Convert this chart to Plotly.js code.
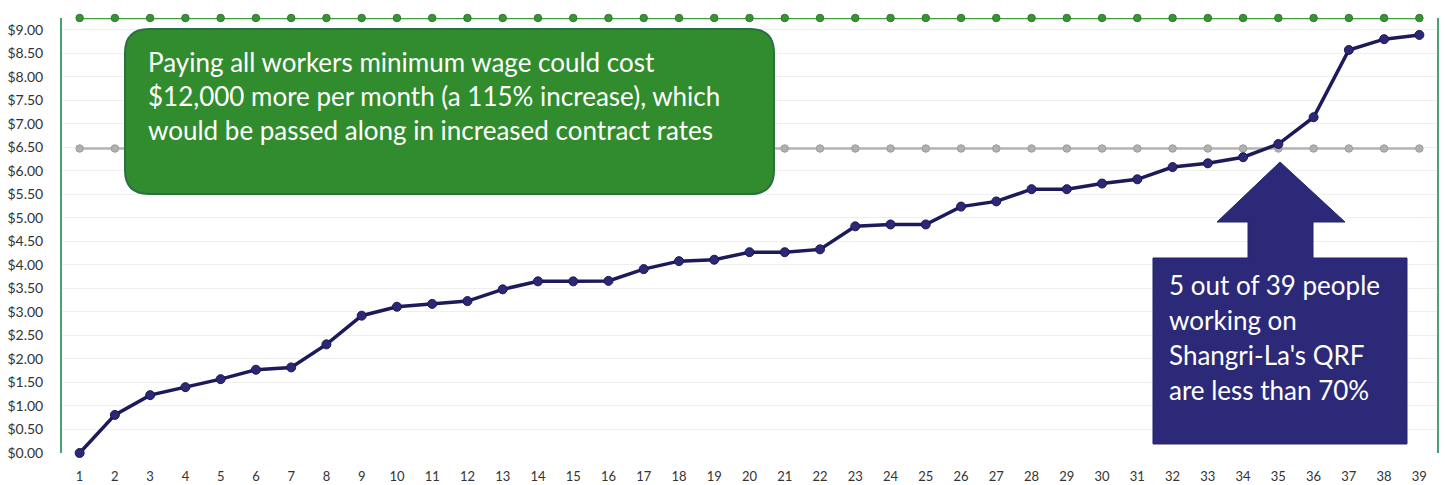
<!DOCTYPE html>
<html>
<head>
<meta charset="utf-8">
<script src="https://cdn.plot.ly/plotly-3.0.1.min.js"></script>
<style>html,body{margin:0;padding:0;background:#fff;}#chart{width:1445px;height:485px;}</style>
</head>
<body>
<div id="chart"></div>
<script>
// ---- data ----
var workers = [];
for (var i = 1; i <= 39; i++) workers.push(i);
var hourlyPay = [0.00, 0.81, 1.23, 1.40, 1.57, 1.77, 1.82, 2.31, 2.92, 3.11,
                 3.17, 3.23, 3.48, 3.65, 3.65, 3.66, 3.91, 4.08, 4.11, 4.27,
                 4.27, 4.33, 4.82, 4.86, 4.86, 5.24, 5.35, 5.61, 5.61, 5.73,
                 5.82, 6.08, 6.16, 6.29, 6.57, 7.14, 8.57, 8.80, 8.89];
var minimumWage = workers.map(function(){ return 9.25; });
var seventyPct = workers.map(function(){ return 6.475; });
var yTickVals = [0,0.5,1,1.5,2,2.5,3,3.5,4,4.5,5,5.5,6,6.5,7,7.5,8,8.5,9];
var yTickText = yTickVals.map(function(v){ return '$' + v.toFixed(2); });
var greenNote = ['Paying all workers minimum wage could cost',
                 '$12,000 more per month (a 115% increase), which',
                 'would be passed along in increased contract rates'];
var blueNote = ['5 out of 39 people', 'working on', "Shangri-La's QRF", 'are less than 70%'];

// ---- layout helpers (pixel -> paper) ----
var L = 62, T = 18, W = 1375, H = 435;
function px(X){ return ((X - L) / W).toFixed(5); }
function py(Y){ return ((T + H - Y) / H).toFixed(5); }
function P(X, Y){ return px(X) + ',' + py(Y); }

// rounded green box
var bx0 = 125, by0 = 29, bx1 = 774, by1 = 194, r = 24;
var greenPath = 'M' + P(bx0 + r, by0) + ' L' + P(bx1 - r, by0) +
  ' Q' + P(bx1, by0) + ' ' + P(bx1, by0 + r) +
  ' L' + P(bx1, by1 - r) + ' Q' + P(bx1, by1) + ' ' + P(bx1 - r, by1) +
  ' L' + P(bx0 + r, by1) + ' Q' + P(bx0, by1) + ' ' + P(bx0, by1 - r) +
  ' L' + P(bx0, by0 + r) + ' Q' + P(bx0, by0) + ' ' + P(bx0 + r, by0) + ' Z';

// blue arrow callout
var arrowPath = 'M' + P(1153, 258) + ' L' + P(1248, 258) + ' L' + P(1248, 222) +
  ' L' + P(1217, 222) + ' L' + P(1280, 162) + ' L' + P(1345, 222) +
  ' L' + P(1313, 222) + ' L' + P(1313, 258) + ' L' + P(1407, 258) +
  ' L' + P(1407, 444) + ' L' + P(1153, 444) + ' Z';

var annotations = [];
greenNote.forEach(function(t, k){
  annotations.push({xref:'paper', yref:'paper', x:+px(146), y:+py(62 + k*34),
    xanchor:'left', yanchor:'middle', showarrow:false, text:t, align:'left',
    font:{family:'Lato, "Open Sans", sans-serif', size:26, color:'#ffffff'}});
});
blueNote.forEach(function(t, k){
  annotations.push({xref:'paper', yref:'paper', x:+px(1167), y:+py(285 + k*35),
    xanchor:'left', yanchor:'middle', showarrow:false, text:t, align:'left',
    font:{family:'Lato, "Open Sans", sans-serif', size:26, color:'#ffffff'}});
});

var traces = [
  {x: workers, y: minimumWage, type:'scatter', mode:'lines+markers', cliponaxis:false,
   line:{color:'#3f9d3a', width:2.5}, marker:{color:'#3a9236', size:7.5, line:{color:'#2f7a2e', width:1}}},
  {x: workers, y: seventyPct, type:'scatter', mode:'lines+markers', cliponaxis:false,
   line:{color:'#b4b4b4', width:2.5}, marker:{color:'#b0b0b0', size:7.5, line:{color:'#9c9c9c', width:1}}},
  {x: workers, y: hourlyPay, type:'scatter', mode:'lines+markers', cliponaxis:false,
   line:{color:'#1d1a5c', width:3.5}, marker:{color:'#2b2878', size:9, line:{color:'#1a1750', width:1}}}
];

var layout = {
  width:1445, height:485,
  margin:{l:L, r:1445 - L - W, t:T, b:485 - T - H, pad:0},
  paper_bgcolor:'#ffffff', plot_bgcolor:'#ffffff',
  showlegend:false,
  font:{family:'Lato, "Open Sans", sans-serif', color:'#333333'},
  xaxis:{range:[0.5, 39.5], tickmode:'array', tickvals:workers, ticktext:workers.map(String),
    showgrid:false, zeroline:false, showline:false, ticks:'', ticklabelstandoff:14,
    tickfont:{size:13, color:'#333333'}, fixedrange:true},
  yaxis:{range:[0, 9.25], tickmode:'array', tickvals:yTickVals, ticktext:yTickText,
    showgrid:true, gridcolor:'#efefef', gridwidth:1, zeroline:false,
    showline:true, mirror:true, linecolor:'#4a9e74', linewidth:2, ticks:'',
    ticklabelstandoff:14, tickfont:{size:14, color:'#333333'}, fixedrange:true},
  shapes:[
    {type:'path', xref:'paper', yref:'paper', path:greenPath, layer:'above',
     fillcolor:'#318c2d', line:{color:'#2a6f45', width:2}},
    {type:'path', xref:'paper', yref:'paper', path:arrowPath, layer:'above',
     fillcolor:'#2c2a78', line:{color:'#26246a', width:1}}
  ],
  annotations: annotations
};

Plotly.newPlot('chart', traces, layout, {displayModeBar:false, staticPlot:true});
</script>
</body>
</html>
